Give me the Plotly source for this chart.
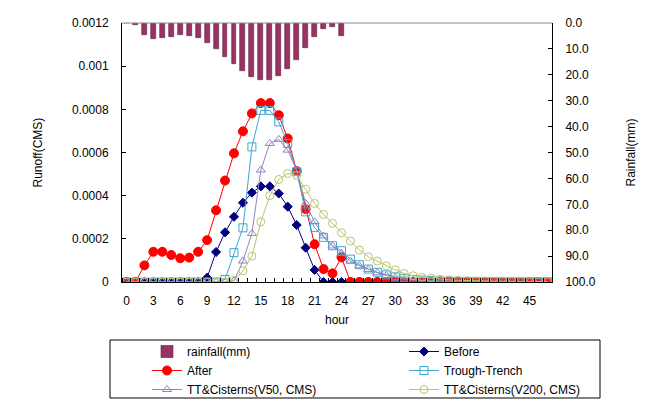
import plotly.graph_objects as go

# dati
hours = list(range(48))
tick_hours = list(range(0, 46, 3))

rainfall = [0, 0.9, 4.6, 6.2, 5.9, 5.4, 4.6, 5.1, 5.9, 7.7, 10.0, 13.1, 15.8,
            18.5, 20.8, 21.9, 21.9, 20.4, 17.7, 14.4, 9.6, 5.4, 2.3, 1.5, 5.0]

before = [0, 0, 0, 0, 0, 0, 0, 0, 0,
          0.00002, 0.000139, 0.00023, 0.000302, 0.000367, 0.000414, 0.000443,
          0.000443, 0.00041, 0.000349, 0.000264, 0.000159, 0.000056,
          0, 0, 0, 0, 0, 0, 0, 0, 0, 0, 0, 0, 0, 0, 0, 0, 0, 0, 0, 0, 0, 0, 0, 0, 0, 0]

after = [0, 0, 0.000077, 0.00014, 0.00014, 0.000125, 0.00011, 0.000113, 0.00014,
         0.000194, 0.000332, 0.00047, 0.000596, 0.000698, 0.000781, 0.000829,
         0.000829, 0.000773, 0.000665, 0.000514, 0.000338, 0.000175, 0.00006,
         0.00004, 0.000114,
         0, 0, 0, 0, 0, 0, 0, 0, 0, 0, 0, 0, 0, 0, 0, 0, 0, 0, 0, 0, 0, 0, 0]

trough_trench = [0, 0, 0, 0, 0, 0, 0, 0, 0, 0, 0,
                 0.000012, 0.000136, 0.000251, 0.000626, 0.000795, 0.000795,
                 0.000742, 0.000642, 0.000511, 0.000325, 0.000253, 0.000207,
                 0.000168, 0.000145, 0.000106, 0.00008, 0.00006, 0.000045,
                 0.000033, 0.000024, 0.000017, 0.000012, 0.000009, 0.000007,
                 0.000005, 0.000004, 0.000003, 0.000003, 0.000002, 0.000002,
                 0.000002, 0.000001, 0.000001, 0.000001, 0.000001, 0.000001, 0.000001]

tt_v50 = [0, 0, 0, 0, 0, 0, 0, 0, 0, 0, 0, 0,
          0.000005, 0.000097, 0.000225, 0.000519, 0.000642, 0.000661, 0.000611,
          0.000519, 0.000364, 0.000279, 0.000213, 0.000167, 0.000133, 0.000097,
          0.000075, 0.000058, 0.000043, 0.00003, 0.00002, 0.000013, 0.000008,
          0.000005, 0.000004, 0.000003, 0.000002, 0.000002, 0.000001, 0.000001,
          0.000001, 0.000001, 0.000001, 0.000001, 0.000001, 0.000001, 0.000001, 0.000001]

tt_v200 = [0, 0, 0, 0, 0, 0, 0, 0, 0, 0, 0, 0,
           0.000008, 0.000052, 0.00012, 0.000279, 0.0004, 0.000475, 0.000503,
           0.000494, 0.00043, 0.000364, 0.000313, 0.000272, 0.000228, 0.00019,
           0.000148, 0.000117, 0.000097, 0.000075, 0.000056, 0.00004, 0.000029,
           0.000022, 0.000018, 0.000012, 0.00001, 0.000008, 0.000006, 0.000005,
           0.000005, 0.000004, 0.000004, 0.000003, 0.000003, 0.000002, 0.000002, 0.000002]

font = "Liberation Sans, Arial, sans-serif"

# area del grafico: 430 x 259 px (la pagina aggiunge 8px di margine al body)
W, H = 662, 395
L, T, PW, PH = 114, 15, 430, 259


def px_x(x):
    return (x - 8 - L) / PW


def px_y(y):
    return 1 - (y - 8 - T) / PH


fig = go.Figure()

# pioggia sull'asse destro (invertito)
fig.add_trace(go.Bar(x=hours[:len(rainfall)], y=rainfall, name="rainfall(mm)", yaxis="y2",
                     width=0.55, legend="legend",
                     marker=dict(color="#993366", line=dict(color="#5a1f3c", width=0.6))))

# serie di deflusso: (dati, nome, colore, simbolo, dimensione, legenda)
serie = [
    (before, "Before", "#000080", "diamond", 7, "legend2"),
    (after, "After", "#ff0000", "circle", 9, "legend"),
    (trough_trench, "Trough-Trench", "#3ea6cf", "square-open", 8, "legend2"),
    (tt_v50, "TT&Cisterns(V50, CMS)", "#8f86c0", "triangle-up-open", 8, "legend"),
    (tt_v200, "TT&Cisterns(V200, CMS)", "#b8c66e", "circle-open", 8, "legend2"),
]
for dati, nome, col, simbolo, dim, leg in serie:
    fig.add_trace(go.Scatter(x=hours, y=dati, name=nome, mode="lines+markers", legend=leg,
                             line=dict(color=col, width=1),
                             marker=dict(symbol=simbolo, size=dim, color=col, line=dict(color=col, width=1))))

leg_style = dict(orientation="v", xanchor="left", yanchor="top", yref="paper", y=px_y(337),
                 font=dict(size=12), tracegroupgap=0, bgcolor="rgba(0,0,0,0)", borderwidth=0)

fig.update_layout(
    width=W, height=H,
    margin=dict(l=L, r=W - L - PW, t=T, b=H - T - PH, autoexpand=False),
    paper_bgcolor="white", plot_bgcolor="white",
    font=dict(family=font, size=12, color="black"),
    showlegend=True,
    bargap=0,
    xaxis=dict(range=[-0.5, 47.5], tickvals=tick_hours, ticks="", showline=True, linecolor="black",
               linewidth=1, showgrid=False, zeroline=False, ticklabelstandoff=8,
               minor=dict(tick0=-0.5, dtick=1, ticks="inside", ticklen=4, tickcolor="black", showgrid=False)),
    yaxis=dict(range=[0, 0.0012], dtick=0.0002, tickformat="~g", ticks="inside", ticklen=4,
               tickcolor="black", showline=True, linecolor="black", showgrid=False, zeroline=False,
               ticklabelstandoff=10),
    yaxis2=dict(range=[100, 0], dtick=10, tickformat=".1f", overlaying="y", side="right",
                ticks="inside", ticklen=4, tickcolor="black", showline=True, linecolor="black",
                showgrid=False, zeroline=False, ticklabelstandoff=10),
    legend=dict(x=px_x(147), **leg_style),
    legend2=dict(x=px_x(404), **leg_style),
    annotations=[
        dict(text="Runoff(CMS)", x=px_x(37), xref="paper", y=0.5, yref="paper", showarrow=False,
             textangle=-90, xanchor="center", yanchor="middle"),
        dict(text="Rainfall(mm)", x=px_x(630), xref="paper", y=0.5, yref="paper", showarrow=False,
             textangle=-90, xanchor="center", yanchor="middle"),
        dict(text="hour", x=0.5, xref="paper", y=px_y(320), yref="paper", showarrow=False,
             xanchor="center", yanchor="middle"),
    ],
    shapes=[
        dict(type="line", xref="paper", yref="paper", x0=0, x1=1, y0=1, y1=1,
             line=dict(color="#888888", width=1)),
        dict(type="rect", xref="paper", yref="paper", x0=px_x(110), x1=px_x(600),
             y0=px_y(340), y1=px_y(398), line=dict(color="black", width=1)),
    ],
)

fig.write_html("out.html")
